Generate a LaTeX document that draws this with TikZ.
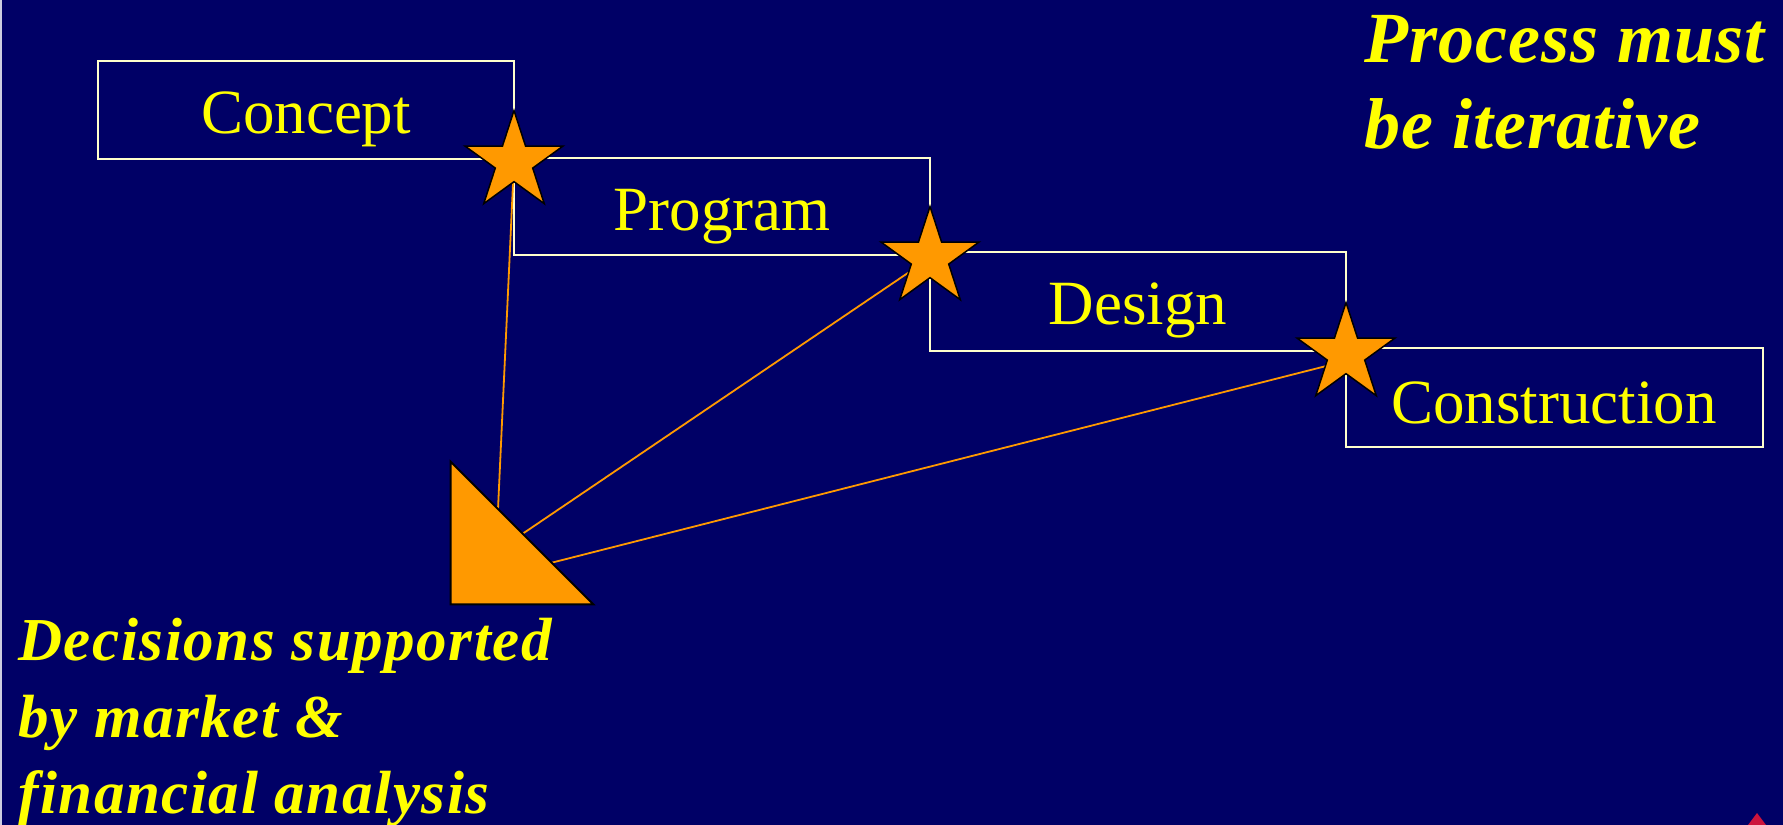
\documentclass[tikz,border=0pt]{standalone}
\usepackage{fontspec}
\setmainfont{Liberation Serif}
\usetikzlibrary{shapes.geometric}
\definecolor{bg}{RGB}{0,0,102}
\definecolor{boxline}{RGB}{255,255,204}
\definecolor{org}{RGB}{255,153,0}
\definecolor{ylw}{RGB}{255,255,0}
\definecolor{navred}{RGB}{204,20,60}
\begin{document}
\begin{tikzpicture}[x=1bp,y=-1bp,
  stagebox/.style={draw=boxline, line width=2bp},
  stagelabel/.style={text=ylw, font=\fontsize{63bp}{75bp}\selectfont, anchor=base, inner sep=0},
  bigtext/.style={text=ylw, font=\fontsize{72bp}{86bp}\selectfont\bfseries\itshape\addfontfeature{LetterSpace=1.4}, anchor=base west, inner sep=0},
  note/.style={text=ylw, font=\fontsize{61bp}{77bp}\selectfont\bfseries\itshape\addfontfeature{LetterSpace=2.6}, anchor=base west, inner sep=0},
  milestone/.style={star, star points=5, star point ratio=2.618, minimum size=103bp, inner sep=0, fill=org, draw=black, line width=1.5bp},
  link/.style={draw=org, line width=1.8bp},
  wedge/.style={fill=org, draw=black, line width=2bp, line join=miter}]
\useasboundingbox (0,0) rectangle (1783,825);
\fill[bg] (0,0) rectangle (1783,825);
\fill[white!80!bg] (0,0) rectangle (1.6,825);

% stage boxes
\draw[stagebox] (98,61) rectangle (514,159);
\draw[stagebox] (514,158) rectangle (930,255);
\draw[stagebox] (930,252) rectangle (1346,351);
\draw[stagebox] (1346,348) rectangle (1762.5,447);

\node[stagelabel] (concept) at (306,133) {Concept};
\node[stagelabel] (program) at (722,230) {Program};
\node[stagelabel] (design) at (1138,324) {Design};
\node[stagelabel] (construction) at (1554,423) {Construction};

% decision triangle
\coordinate (ta) at (450.7,461.7);
\coordinate (tb) at (593.3,604.3);
\coordinate (tc) at (450.7,604.3);
\coordinate (h1) at (498,509);
\coordinate (h2) at (522.7,533.7);
\coordinate (h3) at (551.7,562.7);
\coordinate (e3) at (1346,361);

% milestone positions
\coordinate (m1) at (514,162);
\coordinate (m2) at (930,258);
\coordinate (m3) at (1346,354);

\draw[link] (h1) -- (m1);
\draw[link] (h2) -- (m2);
\draw[link] (h3) -- (e3);

\draw[wedge] (ta) -- (tb) -- (tc) -- cycle;

\node[milestone] (s1) at (m1) {};
\node[milestone] (s2) at (m2) {};
\node[milestone] (s3) at (m3) {};

% texts
\node[bigtext] (iterA) at (1364,62) {Process must};
\node[bigtext] (iterB) at (1364,148) {be iterative};
\node[note] (decA) at (18,660) {Decisions supported};
\node[note] (decB) at (18,737) {by market \&};
\node[note] (decC) at (18,813) {financial analysis};

% small navigation mark
\fill[navred] (1757,813) -- (1766,825) -- (1748,825) -- cycle;
\end{tikzpicture}
\end{document}
